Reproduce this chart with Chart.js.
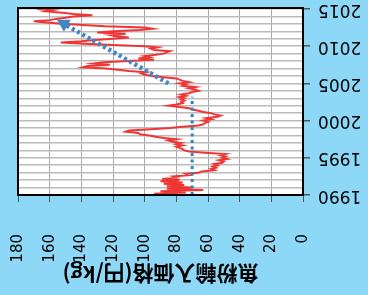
<!DOCTYPE html>
<html><head><meta charset="utf-8">
<script src="https://cdn.jsdelivr.net/npm/chart.js@4/dist/chart.umd.min.js"></script>
<style>html,body{margin:0;padding:0;background:#8ED8F7;overflow:hidden}</style>
</head><body>
<canvas id="c" width="368" height="295" style="width:368px;height:295px;display:block"></canvas>
<script>
// ---- data ----
const startYear = 1990;
const samplesPerYear = 6; // bi-monthly readings
const prices = [
  76, 94, 74, 90, 63, 86,
  70, 86, 75, 88, 76, 90,
  78, 89, 80, 82, 72, 74,
  66, 64, 56, 58, 55, 57,
  54, 56, 51, 50, 53, 48,
  51, 49, 52, 49, 62, 72,
  75, 76, 78, 80, 76, 80,
  77, 82, 85, 80, 88, 93,
  97, 103, 104, 112, 110, 96,
  84, 76, 66, 63, 62, 60,
  63, 58, 61, 54, 52, 56,
  58, 63, 66, 70, 72, 78,
  85, 80, 76, 77, 75, 77,
  75, 78, 74, 77, 72, 70,
  66, 68, 72, 68, 76, 74,
  78, 72, 76, 78, 80, 88,
  95, 100, 102, 99, 110, 117,
  124, 139, 136, 122, 132, 126,
  110, 94, 104, 97, 100, 93,
  88, 86, 84, 94, 96, 92,
  100, 120, 138, 153, 140, 131,
  120, 110, 118, 122, 112, 130,
  120, 103, 95, 100, 125, 139,
  152, 162, 170, 160, 156, 150,
  145, 133, 145, 152, 162, 158,
  168
];
const flatYears = [1990, 2003.2];
const flatValues = [70, 70];
const arrowYears = [2005.0, 2013.0];
const arrowValues = [85, 151];
const yearTicks = [1990, 1995, 2000, 2005, 2010, 2015];
const valueTicks = [0, 20, 40, 60, 80, 100, 120, 140, 160, 180];
const axisTitle = '魚粉輸入価格(円/kg)';

// ---- build ----
const pricePts = prices.map((v, i) => ({ x: v, y: startYear + i / samplesPerYear }));
const flatPts = flatYears.map((y, i) => ({ x: flatValues[i], y }));
const arrowPts = arrowYears.map((y, i) => ({ x: arrowValues[i], y }));

const decor = {
  id: 'decor',
  beforeDraw(chart) {
    const { ctx, chartArea: a } = chart;
    ctx.save();
    ctx.fillStyle = '#8ED8F7';
    ctx.fillRect(0, 0, chart.width, chart.height);
    ctx.fillStyle = '#FFFFFF';
    ctx.fillRect(a.left, a.top, a.right - a.left, a.bottom - a.top);
    ctx.restore();
  },
  afterDraw(chart) {
    const { ctx, chartArea: a } = chart;
    ctx.save();
    ctx.strokeStyle = '#000';
    ctx.lineWidth = 2;
    ctx.strokeRect(a.left, a.top, a.right - a.left, a.bottom - a.top);
    ctx.translate((a.left + a.right) / 2, 274);
    ctx.rotate(Math.PI);
    ctx.fillStyle = '#000';
    ctx.font = 'bold 21px "Noto Sans CJK JP"';
    ctx.textAlign = 'center';
    ctx.textBaseline = 'middle';
    ctx.fillText(axisTitle, 0, 0);
    ctx.restore();
  }
};

new Chart(document.getElementById('c'), {
  type: 'scatter',
  data: {
    datasets: [
      { data: arrowPts, showLine: true, borderColor: '#4187C8', borderWidth: 4.5, borderDash: [3, 3],
        pointRadius: [0, 8], pointStyle: 'triangle', pointRotation: -60,
        pointBackgroundColor: '#4187C8', pointBorderWidth: 0 },
      { data: flatPts, showLine: true, borderColor: '#2E84C6', borderWidth: 3, borderDash: [3, 3.5], pointRadius: 0 },
      { data: pricePts, showLine: true, borderColor: '#F03535', borderWidth: 2, pointRadius: 0, tension: 0 }
    ]
  },
  options: {
    responsive: false,
    animation: false,
    events: [],
    layout: { padding: { top: 6, left: 18, right: 0, bottom: 0 } },
    plugins: { legend: { display: false }, tooltip: { enabled: false } },
    scales: {
      x: {
        type: 'linear', position: 'bottom', reverse: true, min: 0, max: 180,
        afterBuildTicks: s => { s.ticks = valueTicks.map(v => ({ value: v })); },
        ticks: { autoSkip: false, minRotation: 90, maxRotation: 90, padding: 32, color: '#000',
                 font: { family: 'DejaVu Sans', size: 15 } },
        grid: { color: '#A8A8A8', lineWidth: 1, tickLength: 7, tickColor: '#555' },
        border: { display: true, color: '#000', width: 2 },
        afterFit: s => { s.height = 100; s.paddingLeft = 0; s.paddingRight = 0; }
      },
      y: {
        type: 'linear', position: 'right', min: 1990, max: 2015.13,
        afterBuildTicks: s => { const t = []; for (let y = 1990; y <= 2015; y++) t.push({ value: y }); s.ticks = t; },
        ticks: { autoSkip: false, minRotation: 180, maxRotation: 180, crossAlign: 'center', padding: 8,
                 color: '#000', font: { family: 'DejaVu Sans', size: 17 },
                 callback: v => yearTicks.includes(v) ? String(v) : '' },
        grid: { color: '#BBBBBB', lineWidth: 1.5, tickLength: 7,
                tickColor: c => (c.tick && yearTicks.includes(c.tick.value)) ? '#555' : 'rgba(0,0,0,0)' },
        border: { display: true, color: '#000', width: 2 },
        afterFit: s => { s.width = 65; s.paddingTop = 0; s.paddingBottom = 0; }
      }
    }
  },
  plugins: [decor]
});
</script>
</body></html>
